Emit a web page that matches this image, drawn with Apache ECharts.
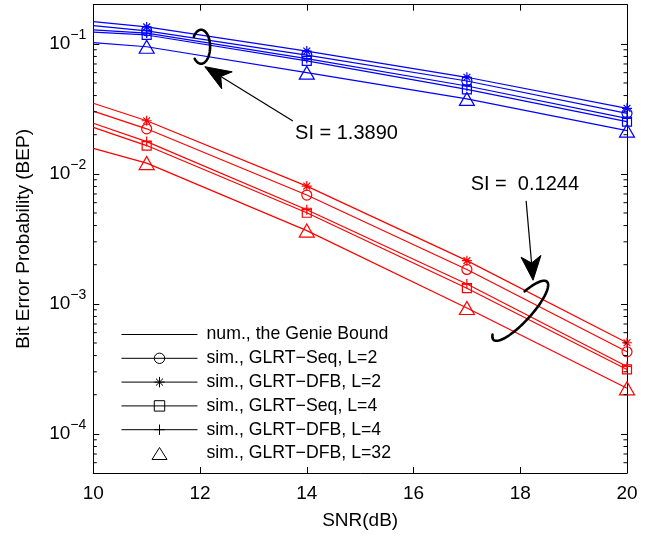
<!DOCTYPE html>
<html><head><meta charset="utf-8">
<script src="https://cdn.jsdelivr.net/npm/echarts@6/dist/echarts.min.js"></script>
<style>html,body{margin:0;padding:0;background:#fff}#c{width:655px;height:538px}</style>
</head><body><div id="c"></div>
<script>
// ---------------- data ----------------
const snrLine = [10, 11, 14, 17, 20];
const snrSim = [11, 14, 17, 20];
// group "SI = 1.3890" (blue)
const blueGenie = [0.102, 0.095, 0.060, 0.0377, 0.0215];
const blueSeqL2 = [0.138, 0.126, 0.082, 0.0518, 0.0292];
const blueDfbL2 = [0.148, 0.135, 0.088, 0.0553, 0.0319];
const blueSeqL4 = [0.123, 0.117, 0.074, 0.0447, 0.0252];
const blueDfbL4 = [0.128, 0.121, 0.077, 0.0474, 0.0267];
const blueDfbL32 = [0.095, 0.060, 0.0377, 0.0215];
// group "SI = 0.1244" (red)
const redGenie = [0.0157, 0.0121, 0.00366, 0.00093, 0.000224];
const redSeqL2 = [0.0304, 0.0222, 0.00687, 0.00184, 0.000428];
const redDfbL2 = [0.0349, 0.0256, 0.00805, 0.00215, 0.000502];
const redSeqL4 = [0.0228, 0.0165, 0.00502, 0.00132, 0.000313];
const redDfbL4 = [0.0245, 0.0177, 0.0053, 0.00142, 0.00033];
const redDfbL32 = [0.0121, 0.00366, 0.00093, 0.000224];

const xTickValues = [10, 12, 14, 16, 18, 20];
const yRange = [5e-5, 0.2];
const minorTickValues = [6e-5, 7e-5, 8e-5, 9e-5,
  2e-4, 3e-4, 4e-4, 5e-4, 6e-4, 7e-4, 8e-4, 9e-4,
  2e-3, 3e-3, 4e-3, 5e-3, 6e-3, 7e-3, 8e-3, 9e-3,
  2e-2, 3e-2, 4e-2, 5e-2, 6e-2, 7e-2, 8e-2, 9e-2];
const legendNames = ['num., the Genie Bound', 'sim., GLRT\u2212Seq, L=2', 'sim., GLRT\u2212DFB, L=2',
  'sim., GLRT\u2212Seq, L=4', 'sim., GLRT\u2212DFB, L=4', 'sim., GLRT\u2212DFB, L=32'];
const xTitle = 'SNR(dB)';
const yTitle = 'Bit Error Probability (BEP)';
const siTexts = ['SI = 1.3890', 'SI =  0.1244'];
// annotation anchors (data coordinates)
const siBlueEllipse = [12.02, 0.095];
const siBlueArrowTip = [12.09, 0.0667];
const siBlueArrowTail = [13.74, 0.0255];
const siBlueTextPos = [13.78, 0.0206];
const siRedEllipse = [18.0, 8.85e-4];
const siRedArrowTip = [18.24, 1.52e-3];
const siRedArrowTail = [18.11, 6.2e-3];
const siRedTextPos = [17.07, 8.3e-3];

// ---------------- styling ----------------
const FONT = '"Liberation Sans", Arial, Helvetica, sans-serif';
const BLUE = '#0000ff', RED = '#ff0000';
const STAR = 'path://M5,0L5,10M0,5L10,5M1.6,1.6L8.4,8.4M1.6,8.4L8.4,1.6';
const PLUS = 'path://M5,0L5,10M0,5L10,5';
const LEGEND_TRIANGLE = 'path://M0,0M76,13M30.5,12.5L38,0.5L45.5,12.5Z';
const LW = 1.2;

function genieSeries(ys, color) {
  return {
    name: legendNames[0], type: 'line', symbol: 'none',
    data: snrLine.map((x, i) => [x, ys[i]]),
    lineStyle: { color, width: LW }, itemStyle: { color },
    emphasis: { disabled: true }, animation: false, z: 2
  };
}
function simSeries(name, ys, color, symbol, size) {
  return {
    name, type: 'line', symbol, symbolSize: size, showSymbol: true,
    data: snrLine.map((x, i) => i === 0 ? { value: [x, ys[i]], symbol: 'none' } : [x, ys[i]]),
    lineStyle: { color, width: LW },
    itemStyle: { color: 'rgba(0,0,0,0)', borderColor: color, borderWidth: 1.2 },
    emphasis: { disabled: true }, animation: false, z: 3
  };
}
function markerSeries(name, ys, color) {
  return {
    name, type: 'line', symbol: 'triangle', symbolSize: [15, 13], showSymbol: true,
    data: snrSim.map((x, i) => [x, ys[i]]),
    lineStyle: { width: 0, opacity: 0 },
    itemStyle: { color: 'rgba(0,0,0,0)', borderColor: color, borderWidth: 1.2 },
    emphasis: { disabled: true }, animation: false, z: 3
  };
}

const series = [];
[[BLUE, blueGenie, blueSeqL2, blueDfbL2, blueSeqL4, blueDfbL4, blueDfbL32],
 [RED, redGenie, redSeqL2, redDfbL2, redSeqL4, redDfbL4, redDfbL32]].forEach(g => {
  const [c, gen, s2, d2, s4, d4, d32] = g;
  series.push(genieSeries(gen, c));
  series.push(simSeries(legendNames[1], s2, c, 'circle', 10));
  series.push(simSeries(legendNames[2], d2, c, STAR, 10));
  series.push(simSeries(legendNames[3], s4, c, 'rect', 9));
  series.push(simSeries(legendNames[4], d4, c, PLUS, 10));
  series.push(markerSeries(legendNames[5], d32, c));
});
// minor log ticks (MATLAB style, both sides)
series.push({
  type: 'custom', silent: true, animation: false, clip: false, z: 5,
  data: minorTickValues.map(v => [10, v]),
  renderItem: (params, api) => {
    const v = api.value(1);
    const pl = api.coord([10, v]), pr = api.coord([20, v]);
    return { type: 'group', children: [
      { type: 'line', shape: { x1: pl[0], y1: pl[1], x2: pl[0] + 3.5, y2: pl[1] }, style: { stroke: '#000', lineWidth: 1 } },
      { type: 'line', shape: { x1: pr[0], y1: pr[1], x2: pr[0] - 3.5, y2: pr[1] }, style: { stroke: '#000', lineWidth: 1 } }
    ]};
  }
});

const blackLine = { color: '#000', width: 1 };
const emptyBlack = { color: 'rgba(0,0,0,0)', borderColor: '#000', borderWidth: 1 };
const legendData = [
  { name: legendNames[0], itemStyle: { opacity: 0 }, lineStyle: blackLine },
  { name: legendNames[1], itemStyle: emptyBlack, lineStyle: blackLine },
  { name: legendNames[2], itemStyle: emptyBlack, lineStyle: blackLine },
  { name: legendNames[3], itemStyle: emptyBlack, lineStyle: blackLine },
  { name: legendNames[4], itemStyle: emptyBlack, lineStyle: blackLine },
  { name: legendNames[5], icon: LEGEND_TRIANGLE, itemStyle: emptyBlack, lineStyle: { width: 0, opacity: 0 } }
];

function yLabel(value) {
  const lg = Math.log10(value);
  const e = Math.round(lg);
  if (Math.abs(lg - e) > 1e-6) return '';
  return '{a|10}{b|' + (e < 0 ? '\u2212' : '') + Math.abs(e) + '}';
}

const axisCommonX = {
  type: 'value', min: xTickValues[0], max: xTickValues[xTickValues.length - 1], interval: 2,
  axisLine: { show: true, onZero: false, lineStyle: { color: '#000', width: 1 } },
  axisTick: { show: true, inside: true, length: 6, lineStyle: { color: '#000', width: 1 } },
  splitLine: { show: false }
};
const axisCommonY = {
  type: 'log', logBase: 10, min: yRange[0], max: yRange[1],
  axisLine: { show: true, onZero: false, lineStyle: { color: '#000', width: 1 } },
  axisTick: { show: true, inside: true, length: 6, lineStyle: { color: '#000', width: 1 } },
  splitLine: { show: false }, minorTick: { show: false }
};

const option = {
  backgroundColor: '#fff',
  animation: false,
  grid: { left: 93.3, right: 28, top: 4.7, bottom: 65, containLabel: false, outerBoundsMode: 'none' },
  xAxis: [
    Object.assign({}, axisCommonX, {
      position: 'bottom',
      axisLabel: { show: true, fontSize: 19, color: '#000', fontFamily: FONT, margin: 11 },
      name: xTitle, nameLocation: 'middle', nameGap: 38,
      nameTextStyle: { fontSize: 19, color: '#000', fontFamily: FONT }
    }),
    Object.assign({}, axisCommonX, { position: 'top', axisLabel: { show: false } })
  ],
  yAxis: [
    Object.assign({}, axisCommonY, {
      position: 'left',
      axisLabel: {
        show: true, margin: 7, formatter: yLabel, showMinLabel: false, showMaxLabel: false,
        rich: {
          a: { fontSize: 19, fontFamily: FONT, color: '#000', lineHeight: 20, verticalAlign: 'middle' },
          b: { fontSize: 14, fontFamily: FONT, color: '#000', lineHeight: 14, verticalAlign: 'middle', padding: [0, 0, 18, 0] }
        }
      },
      name: yTitle, nameLocation: 'middle', nameGap: 60,
      nameTextStyle: { fontSize: 19, color: '#000', fontFamily: FONT }
    }),
    Object.assign({}, axisCommonY, { position: 'right', axisLabel: { show: false } })
  ],
  legend: {
    orient: 'vertical', left: 121, top: 325.5, padding: 0,
    itemWidth: 76, itemHeight: 13, itemGap: 5.8,
    selectedMode: false,
    textStyle: { fontSize: 17.7, color: '#000', fontFamily: FONT, lineHeight: 17, padding: [0, 0, 0, 4] },
    data: legendData
  },
  series: series
};

const chart = echarts.init(document.getElementById('c'), null, { renderer: 'canvas' });
chart.setOption(option);

// ---------------- annotations ----------------
function P(pt) { return chart.convertToPixel({ xAxisIndex: 0, yAxisIndex: 0 }, pt); }
function ellipse(center, a, b, phiDeg, t0, t1) {
  const c = P(center), phi = phiDeg * Math.PI / 180;
  const u = [Math.cos(phi), -Math.sin(phi)], v = [-Math.sin(phi), -Math.cos(phi)];
  const pts = [];
  for (let t = t0; t <= t1 + 1e-9; t += 3) {
    const r = t * Math.PI / 180;
    pts.push([c[0] + a * Math.cos(r) * u[0] + b * Math.sin(r) * v[0],
              c[1] + a * Math.cos(r) * u[1] + b * Math.sin(r) * v[1]]);
  }
  return { type: 'polyline', silent: true, z: 100, shape: { points: pts },
           style: { stroke: '#000', lineWidth: 2.6, fill: 'none', lineCap: 'round', lineJoin: 'round' } };
}
function arrow(tail, tip, L, W) {
  const a = P(tail), b = P(tip);
  const dx = b[0] - a[0], dy = b[1] - a[1], len = Math.hypot(dx, dy);
  const d = [dx / len, dy / len], n = [-d[1], d[0]];
  const base = [b[0] - d[0] * L, b[1] - d[1] * L];
  const notch = [b[0] - d[0] * L * 0.72, b[1] - d[1] * L * 0.72];
  return [
    { type: 'line', silent: true, z: 100, shape: { x1: a[0], y1: a[1], x2: notch[0], y2: notch[1] },
      style: { stroke: '#000', lineWidth: 1.2 } },
    { type: 'polygon', silent: true, z: 100,
      shape: { points: [b, [base[0] + n[0] * W, base[1] + n[1] * W], notch, [base[0] - n[0] * W, base[1] - n[1] * W]] },
      style: { fill: '#000', stroke: '#000', lineWidth: 1 } }
  ];
}
function label(pos, text) {
  const p = P(pos);
  return { type: 'text', silent: true, z: 100, x: p[0], y: p[1],
           style: { text, fontSize: 20, fontFamily: FONT, fill: '#000', align: 'left', verticalAlign: 'middle' } };
}
const graphicEls = [].concat(
  [ellipse(siBlueEllipse, 9, 17, 0, -135, 144)],
  arrow(siBlueArrowTail, siBlueArrowTip, 26, 10),
  [label(siBlueTextPos, siTexts[0])],
  [ellipse(siRedEllipse, 39.5, 11, 47.5, 157, 426)],
  arrow(siRedArrowTail, siRedArrowTip, 24, 10),
  [label(siRedTextPos, siTexts[1])]
);
chart.setOption({ graphic: { elements: graphicEls } });
</script>
</body></html>
